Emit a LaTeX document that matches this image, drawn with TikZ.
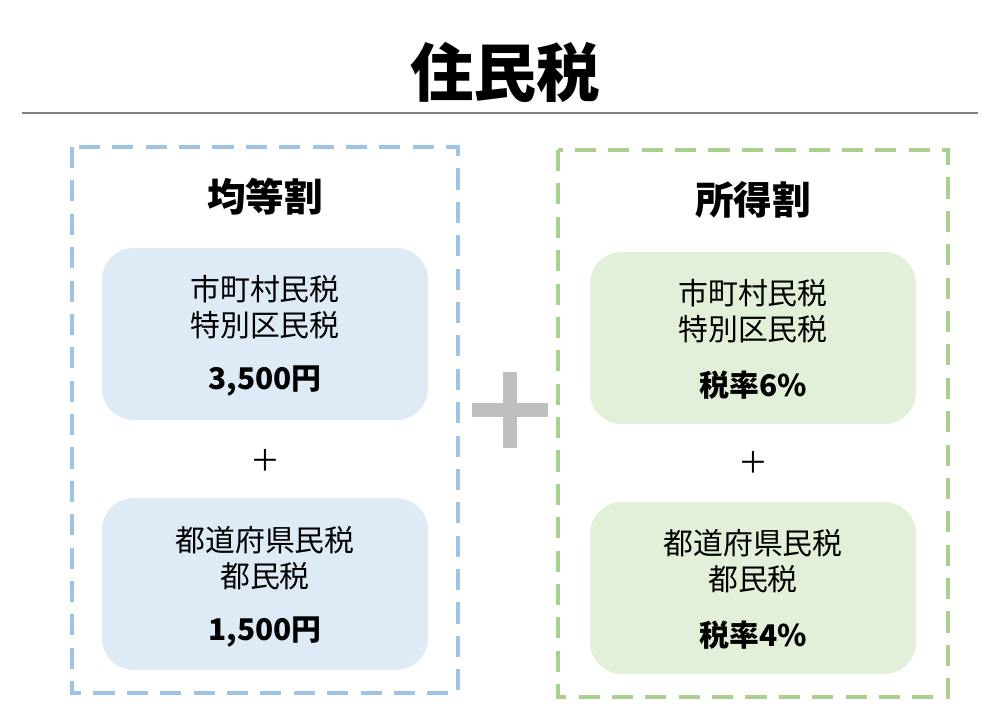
\documentclass[tikz,border=0pt]{standalone}
\usepackage{fontspec}
\setmainfont{Noto Sans CJK JP}
\definecolor{blueL}{HTML}{9DC3E6}
\definecolor{blueF}{HTML}{DEEBF7}
\definecolor{greenL}{HTML}{A9D18E}
\definecolor{greenF}{HTML}{E2F0D9}
\begin{document}
\begin{tikzpicture}[x=0.02cm,y=-0.02cm,
  frame/.style={line width=2.2pt,dash pattern=on 12pt off 7pt},
  tax/.style={rounded corners=18pt,minimum width=6.52cm,minimum height=3.44cm,inner sep=0pt},
  body/.style={font=\fontsize{17}{20}\selectfont},
  amount/.style={font=\fontsize{17}{20}\selectfont\bfseries},
  head/.style={font=\fontsize{22}{26}\selectfont\bfseries}]
\useasboundingbox (0,0) rectangle (1000,726);

\node[font=\fontsize{36}{40}\selectfont\bfseries] (title) at (505,72) {住民税};
\draw[gray,line width=1.2pt] (22,113) coordinate (ruleL) -- (978,113) coordinate (ruleR);

% left: equal share
\draw[frame,blueL] (72,147) rectangle (458,693);
\node[head] (kinto) at (265,197) {均等割};
\node[tax,fill=blueF] (kA) at (265,334) {};
\node[body] at (265,289) {市町村民税};
\node[body] at (265,325) {特別区民税};
\node[amount] at (265,381) {3,500円};
\node[body] (kplus) at (265,460) {＋};
\node[tax,fill=blueF] (kB) at (265,584) {};
\node[body] at (265,540) {都道府県民税};
\node[body] at (265,576) {都民税};
\node[amount] at (265,632) {1,500円};

% big plus
\node[inner sep=0pt] (bigplus) at (510,410) {};
\fill[gray!50] (472,403) rectangle (548,417);
\fill[gray!50] (503,372) rectangle (517,448);

% right: income share
\draw[frame,greenL] (558,150) rectangle (948,697);
\node[head] (shotoku) at (753,200) {所得割};
\node[tax,fill=greenF] (sA) at (753,338) {};
\node[body] at (753,293) {市町村民税};
\node[body] at (753,329) {特別区民税};
\node[amount] at (753,385) {税率6\%};
\node[body] (splus) at (753,462) {＋};
\node[tax,fill=greenF] (sB) at (753,588) {};
\node[body] at (753,543) {都道府県民税};
\node[body] at (753,579) {都民税};
\node[amount] at (753,635) {税率4\%};
\end{tikzpicture}
\end{document}
